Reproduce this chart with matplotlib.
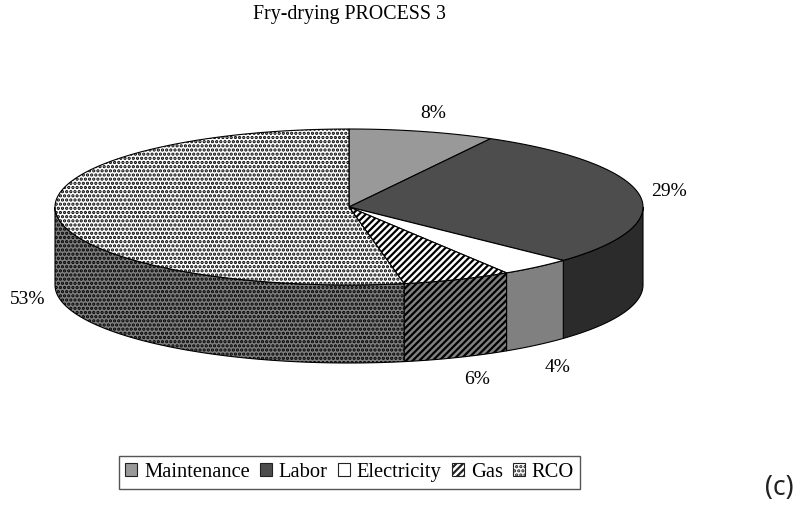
import numpy as np
import matplotlib
matplotlib.use("Agg")
import matplotlib.pyplot as plt
from matplotlib.patches import Polygon, Patch

categories = ["Maintenance", "Labor", "Electricity", "Gas", "RCO"]
shares = [8, 29, 4, 6, 53]
title = "Fry-drying PROCESS 3"
panel = "(c)"

top_colors = ["#999999", "#4d4d4d", "#ffffff", "#ffffff", "#ffffff"]
side_colors = ["#737373", "#2b2b2b", "#808080", "#808080", "#808080"]
hatches = [None, None, None, "/////", "...."]
label_xy = [(433, 113), (669, 192), (558, 367), (477, 380), (28, 299)]

cx, cy, rx, ry, depth = 349, 207, 294, 78, 78
serif = "Liberation Serif"
plt.rcParams["hatch.linewidth"] = 1.6

fig = plt.figure(figsize=(7.94, 5.05), dpi=100)
ax = fig.add_axes([0, 0, 1, 1])
ax.set_xlim(0, 794)
ax.set_ylim(505, 0)
ax.axis("off")


def rim(a, b, dy=0):
    t = np.linspace(a, b, max(int((b - a) * 80), 2))
    return np.column_stack([cx + rx * np.sin(t), cy - ry * np.cos(t) + dy])


edges = np.cumsum([0] + shares) / sum(shares) * 2 * np.pi

# side wall (front half only)
for i in range(len(shares)):
    a, b = max(edges[i], np.pi / 2), min(edges[i + 1], 3 * np.pi / 2)
    if b <= a:
        continue
    pts = np.vstack([rim(a, b), rim(a, b, depth)[::-1]])
    ax.add_patch(Polygon(pts, closed=True, facecolor=side_colors[i],
                         edgecolor="black", hatch=hatches[i], lw=0.8))

# top face
for i in range(len(shares)):
    pts = np.vstack([[[cx, cy]], rim(edges[i], edges[i + 1])])
    ax.add_patch(Polygon(pts, closed=True, facecolor=top_colors[i],
                         edgecolor="black", hatch=hatches[i], lw=0.8))

for v, (x, y) in zip(shares, label_xy):
    ax.text(x, y, f"{v}%", family=serif, fontsize=14, ha="center", va="center", color="black")

ax.text(349, 14, title, family=serif, fontsize=14.3, ha="center", va="center", color="black")
ax.text(779, 488, panel, family="Noto Sans", fontsize=19, ha="center", va="center", color="#222222")

handles = [Patch(facecolor=c, edgecolor="#222222", hatch=h, lw=0.8)
           for c, h in zip(top_colors, hatches)]
leg = ax.legend(handles, categories, ncol=5, loc="center",
                bbox_to_anchor=(349.5 / 794, 1 - 472.5 / 505),
                prop={"family": serif, "size": 14.8}, frameon=True, fancybox=False,
                edgecolor="#555555", framealpha=1, handlelength=0.6, handleheight=0.6,
                handletextpad=0.33, columnspacing=0.48, borderpad=0.32, borderaxespad=0)
leg.get_frame().set_linewidth(1.0)

fig.savefig("out.png", dpi=100, facecolor="white")
